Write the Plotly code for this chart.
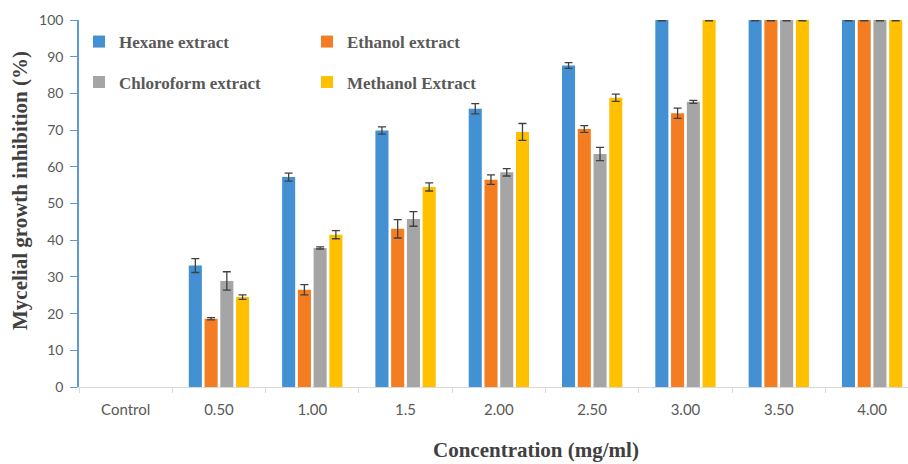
import plotly.graph_objects as go

categories = ["Control", "0.50", "1.00", "1.5", "2.00", "2.50", "3.00", "3.50", "4.00"]

hexane = [None, 33.1, 57.2, 69.9, 75.8, 87.6, 100, 100, 100]
hexane_err = [None, 1.9, 1.1, 1.0, 1.4, 0.8, 0.2, 0.2, 0.2]
ethanol = [None, 18.6, 26.5, 43.1, 56.5, 70.3, 74.6, 100, 100]
ethanol_err = [None, 0.3, 1.4, 2.5, 1.3, 0.9, 1.4, 0.2, 0.2]
chloroform = [None, 28.9, 37.9, 45.8, 58.5, 63.5, 77.7, 100, 100]
chloroform_err = [None, 2.5, 0.3, 2.0, 1.0, 1.8, 0.4, 0.2, 0.2]
methanol = [None, 24.5, 41.5, 54.5, 69.5, 78.8, 100, 100, 100]
methanol_err = [None, 0.6, 1.1, 1.1, 2.3, 1.0, 0.2, 0.2, 0.2]

series = [
    ("Hexane extract", hexane, hexane_err, "#4391d2", "legend"),
    ("Ethanol extract", ethanol, ethanol_err, "#f47d22", "legend"),
    ("Chloroform extract", chloroform, chloroform_err, "#a5a5a5", "legend2"),
    ("Methanol Extract", methanol, methanol_err, "#ffc000", "legend2"),
]

fig = go.Figure()
for name, vals, errs, color, leg in series:
    fig.add_trace(go.Bar(
        x=categories, y=vals, name=name, marker=dict(color=color, line=dict(width=0)),
        error_y=dict(type="data", array=errs, visible=True, color="#404040", thickness=1.3, width=4),
        legend=leg, cliponaxis=False,
    ))

legend_font = dict(family="Liberation Serif", size=17, color="#595959", weight="bold")
title_font = dict(family="Liberation Serif", size=21, color="#404040", weight="bold")

fig.update_layout(
    width=908, height=464,
    margin=dict(l=79, r=0, t=20, b=77),
    paper_bgcolor="white", plot_bgcolor="white",
    barmode="group", bargap=0.325, bargroupgap=0.17,
    legend=dict(orientation="h", x=0.0, y=0.94, xanchor="left", yanchor="middle",
                entrywidth=183, entrywidthmode="pixels", font=legend_font,
                bgcolor="rgba(0,0,0,0)", itemwidth=30, traceorder="normal"),
    legend2=dict(orientation="h", x=0.0, y=0.83, xanchor="left", yanchor="middle",
                 entrywidth=183, entrywidthmode="pixels", font=legend_font,
                 bgcolor="rgba(0,0,0,0)", itemwidth=30, traceorder="normal"),
    xaxis=dict(
        type="category", range=[-0.5, 8.385],
        showline=True, linecolor="#d9d9d9", linewidth=1,
        ticks="outside", tickson="boundaries", ticklen=5, tickcolor="#d9d9d9",
        tickfont=dict(family="Lato", size=15, color="#595959"),
        ticklabelstandoff=9,
        showgrid=False, automargin=False,
    ),
    yaxis=dict(
        range=[0, 100], dtick=10,
        showline=True, linecolor="#5b9bd5", linewidth=1.5,
        ticks="outside", ticklen=7, tickcolor="#5b9bd5",
        tickfont=dict(family="Lato", size=14, color="#595959"),
        ticklabelstandoff=4,
        showgrid=False, zeroline=False, automargin=False,
    ),
    annotations=[
        dict(text="Concentration (mg/ml)", xref="paper", yref="paper",
             x=(536 - 79) / 829, y=-(450 - 387) / 367, xanchor="center", yanchor="middle",
             showarrow=False, font=title_font),
        dict(text="Mycelial growth inhibition (%)", xref="paper", yref="paper",
             x=-(79 - 20) / 829, y=(387 - 191) / 367, xanchor="center", yanchor="middle",
             textangle=-90, showarrow=False, font=title_font),
    ],
)

fig.write_html("out.html")
